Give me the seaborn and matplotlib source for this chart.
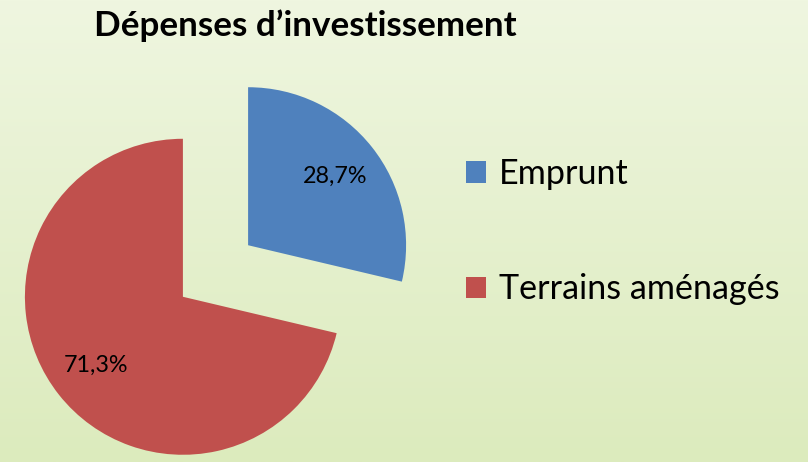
import numpy as np
import matplotlib
matplotlib.use("Agg")
import matplotlib.pyplot as plt
import seaborn as sns
from matplotlib.colors import LinearSegmentedColormap

# ---- data ----
categories = ["Emprunt", "Terrains aménagés"]
values = [28.7, 71.3]
title = "Dépenses d\u2019investissement"

colors = ["#4F81BD", "#C0504D"]

sns.set_theme(style="white")
plt.rcParams["font.family"] = ["Lato", "DejaVu Sans"]

W, H = 808, 462
DPI = 100
fig = plt.figure(figsize=(W / DPI, H / DPI), dpi=DPI)

# background gradient
bg = fig.add_axes([0, 0, 1, 1], zorder=0)
grad = np.linspace(0, 1, 256).reshape(-1, 1)
cmap = LinearSegmentedColormap.from_list("bg", ["#EFF6E0", "#DCEBBD"])
bg.imshow(grad, aspect="auto", cmap=cmap, extent=[0, 1, 0, 1], origin="upper")
bg.set_axis_off()

# pie axes: 1 data unit = R pixels, centered at (cx, cy) pixels from top-left
R = 158.0
cx, cy = 215.5, 271.0
ax = fig.add_axes([0, 0, 1, 1], zorder=1)
ax.patch.set_alpha(0)

def fmt(p):
    return f"{p:.1f}%".replace(".", ",")

wedges, texts, autotexts = ax.pie(
    values,
    colors=colors,
    startangle=90,
    counterclock=False,
    explode=[0.263, 0.263],
    autopct=fmt,
    pctdistance=0.70,
    radius=1.0,
    wedgeprops=dict(linewidth=0),
    textprops=dict(fontsize=16.8, color="black"),
)
ax.set_aspect("auto")
ax.set_xlim(-cx / R, (W - cx) / R)
ax.set_ylim(-(H - cy) / R, cy / R)
ax.set_axis_off()

fig.text(305 / W, 1 - 35.7 / H, title, ha="center", va="baseline",
         fontsize=25.2, fontweight="bold", color="black")

leg = fig.legend(
    wedges, categories,
    loc="upper left",
    bbox_to_anchor=(435 / W, 1 - 127 / H),
    frameon=False,
    fontsize=24.6,
    handlelength=0.6,
    handleheight=0.6,
    handletextpad=0.36,
    labelspacing=2.45,
)
for t in leg.get_texts():
    t.set_color("black")

fig.savefig("out.png", dpi=DPI)
